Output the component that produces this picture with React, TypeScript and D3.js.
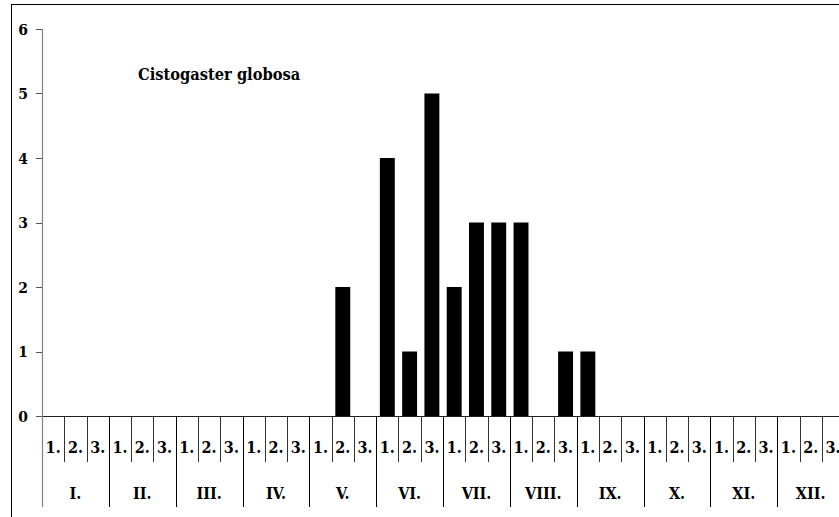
import React from "react";
import * as d3 from "d3";

const months = ["I.", "II.", "III.", "IV.", "V.", "VI.", "VII.", "VIII.", "IX.", "X.", "XI.", "XII."];
const decades = ["1.", "2.", "3."];
const values = [
  0, 0, 0, 0, 0, 0, 0, 0, 0, 0, 0, 0,
  0, 2, 0, 4, 1, 5, 2, 3, 3, 3, 0, 1,
  1, 0, 0, 0, 0, 0, 0, 0, 0, 0, 0, 0,
];
const yTicks = [0, 1, 2, 3, 4, 5, 6];
const title = "Cistogaster globosa";

const W = 839;
const H = 517;
const x0 = 42;
const step = 22.28;
const x1 = x0 + step * 36;
const yTop = 29;
const yZero = 416;
const font = "'DejaVu Serif Condensed', 'DejaVu Serif', serif";

export default function App() {
  const cats = values.map((_, i) => i);
  const x = d3.scaleBand<number>().domain(cats).range([x0, x1]).paddingInner(0.33).paddingOuter(0.165);
  const y = d3.scaleLinear().domain([0, 6]).range([yZero, yTop]);
  const boundaries = d3.range(37);
  return (
    <svg width={W} height={H} style={{ position: "absolute", left: 0, top: 0 }}>
      <rect x={0} y={0} width={W} height={H} fill="#fff" />
      <rect x={11.5} y={4.5} width={1000} height={700} fill="none" stroke="#000" strokeWidth={1} />
      {values.map((v, i) =>
        v > 0 ? (
          <rect key={i} x={x(i)} y={y(v)} width={x.bandwidth()} height={y(0) - y(v)} fill="#000" />
        ) : null
      )}
      <line x1={x0} x2={x1 + 10} y1={yZero + 0.5} y2={yZero + 0.5} stroke="#222" />
      <line x1={x0 + 0.5} x2={x0 + 0.5} y1={yTop} y2={507} stroke="#808080" strokeWidth={1.2} />
      {yTicks.map((t) => (
        <g key={t}>
          <line x1={36} x2={x0} y1={Math.round(y(t)) + 0.5} y2={Math.round(y(t)) + 0.5} stroke="#555" />
          <text x={28} y={y(t) + 5.5} textAnchor="end" fontFamily={font} fontWeight="bold" fontSize={15.5}>
            {t}
          </text>
        </g>
      ))}
      {boundaries.map((i) =>
        i === 0 ? null : (
          <line
            key={i}
            x1={Math.round(x0 + i * step) + 0.5}
            x2={Math.round(x0 + i * step) + 0.5}
            y1={yZero}
            y2={i % 3 === 0 ? 507 : 462}
            stroke={i % 3 === 0 ? "#000" : "#333"}
          />
        )
      )}
      {cats.map((i) => (
        <text
          key={i}
          x={(x(i) as number) + x.bandwidth() / 2}
          y={453}
          textAnchor="middle"
          fontFamily={font}
          fontWeight="bold"
          fontSize={16}
        >
          {decades[i % 3]}
        </text>
      ))}
      {months.map((m, j) => (
        <text
          key={m}
          x={x0 + (j * 3 + 1.5) * step}
          y={499}
          textAnchor="middle"
          fontFamily={font}
          fontWeight="bold"
          fontSize={16}
        >
          {m}
        </text>
      ))}
      <text x={138} y={80} fontFamily={font} fontWeight="bold" fontSize={16.3}>
        {title}
      </text>
    </svg>
  );
}
